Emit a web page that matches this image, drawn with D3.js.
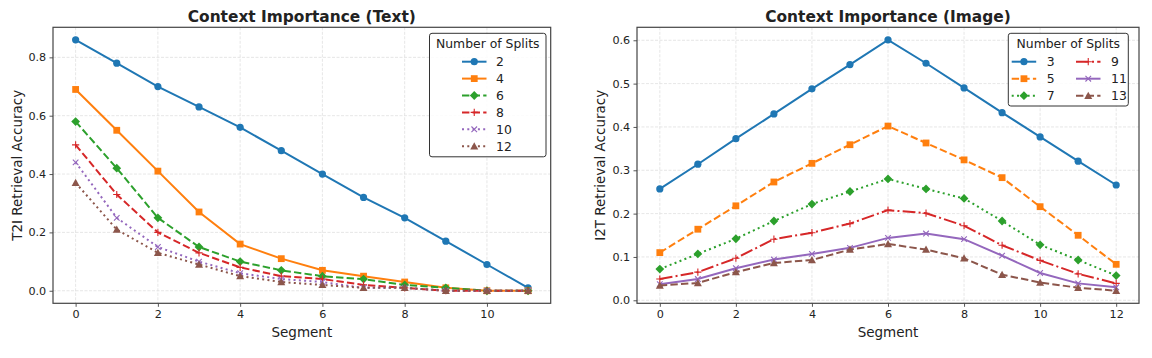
<!DOCTYPE html>
<html>
<head>
<meta charset="utf-8">
<script src="https://cdn.jsdelivr.net/npm/d3@7"></script>
<style>
  body { margin: 0; background: #fff; }
  svg text { font-family: "DejaVu Sans", sans-serif; fill: #222; }
</style>
</head>
<body>
<div id="chart"></div>
<script>
// ---- data ----
const textSegments = d3.range(0, 12);
const textSplits = ['2', '4', '6', '8', '10', '12'];
const textValues = [
  [0.86, 0.78, 0.70, 0.63, 0.56, 0.48, 0.40, 0.32, 0.25, 0.17, 0.09, 0.01],
  [0.69, 0.55, 0.41, 0.27, 0.16, 0.11, 0.07, 0.05, 0.03, 0.01, 0.00, 0.00],
  [0.58, 0.42, 0.25, 0.15, 0.10, 0.07, 0.05, 0.04, 0.02, 0.01, 0.00, 0.00],
  [0.50, 0.33, 0.20, 0.13, 0.08, 0.05, 0.04, 0.02, 0.01, 0.00, 0.00, 0.00],
  [0.44, 0.25, 0.15, 0.10, 0.06, 0.04, 0.03, 0.01, 0.01, 0.00, 0.00, 0.00],
  [0.37, 0.21, 0.13, 0.09, 0.05, 0.03, 0.02, 0.01, 0.01, 0.00, 0.00, 0.00]
];

const imageSegments = d3.range(0, 13);
const imageSplits = ['3', '5', '7', '9', '11', '13'];
const imageValues = [
  [0.257, 0.314, 0.373, 0.430, 0.488, 0.544, 0.601, 0.547, 0.490, 0.433, 0.377, 0.321, 0.266],
  [0.110, 0.164, 0.218, 0.273, 0.316, 0.359, 0.402, 0.363, 0.324, 0.283, 0.216, 0.150, 0.083],
  [0.072, 0.107, 0.142, 0.183, 0.222, 0.251, 0.280, 0.257, 0.235, 0.183, 0.128, 0.093, 0.057],
  [0.049, 0.065, 0.097, 0.141, 0.156, 0.177, 0.208, 0.201, 0.172, 0.127, 0.092, 0.061, 0.039],
  [0.037, 0.049, 0.074, 0.094, 0.107, 0.121, 0.144, 0.154, 0.141, 0.103, 0.063, 0.039, 0.030],
  [0.034, 0.040, 0.065, 0.086, 0.093, 0.117, 0.130, 0.117, 0.097, 0.059, 0.041, 0.029, 0.022]
];

const textXTicks = [0, 2, 4, 6, 8, 10];
const textYTicks = [0, 0.2, 0.4, 0.6, 0.8];
const imageXTicks = [0, 2, 4, 6, 8, 10, 12];
const imageYTicks = [0, 0.1, 0.2, 0.3, 0.4, 0.5, 0.6];

const colors = ['#1f77b4', '#ff7f0e', '#2ca02c', '#d62728', '#9467bd', '#8c564b'];
const textStyles = [
  { dash: null, marker: 'o' },
  { dash: null, marker: 's' },
  { dash: 'dashed', marker: 'D' },
  { dash: 'dashed', marker: '+' },
  { dash: 'dotted', marker: 'x' },
  { dash: 'dotted', marker: '^' }
];
const imageStyles = [
  { dash: null, marker: 'o' },
  { dash: 'dashed', marker: 's' },
  { dash: 'dotted', marker: 'D' },
  { dash: 'dashdot', marker: '+' },
  { dash: null, marker: 'x' },
  { dash: 'dashed', marker: '^' }
];

const dashes = { dashed: '7.4,3.2', dotted: '2,3.3', dashdot: '12.8,3.2,2,3.2' };

const W = 1152, H = 358;
const svg = d3.select('#chart').append('svg').attr('width', W).attr('height', H);

function drawMarker(g, type, x, y, color) {
  if (type === 'o') {
    g.append('circle').attr('cx', x).attr('cy', y).attr('r', 3.6).attr('fill', color);
  } else if (type === 's') {
    g.append('rect').attr('x', x - 3.4).attr('y', y - 3.4).attr('width', 6.8).attr('height', 6.8).attr('fill', color);
  } else if (type === 'D') {
    const r = 4.4;
    g.append('path').attr('d', `M${x},${y - r}L${x + r},${y}L${x},${y + r}L${x - r},${y}Z`).attr('fill', color);
  } else if (type === '^') {
    const r = 4;
    g.append('path').attr('d', `M${x},${y - r}L${x + r},${y + r * 0.8}L${x - r},${y + r * 0.8}Z`).attr('fill', color);
  } else if (type === '+') {
    const r = 3.6;
    g.append('path').attr('d', `M${x - r},${y}H${x + r}M${x},${y - r}V${y + r}`)
      .attr('stroke', color).attr('stroke-width', 1.1).attr('fill', 'none');
  } else if (type === 'x') {
    const r = 2.8;
    g.append('path').attr('d', `M${x - r},${y - r}L${x + r},${y + r}M${x - r},${y + r}L${x + r},${y - r}`)
      .attr('stroke', color).attr('stroke-width', 1.1).attr('fill', 'none');
  }
}

function drawPanel(cfg) {
  const { left, right, top, bottom } = cfg.box;
  const xMin = d3.min(cfg.segments), xMax = d3.max(cfg.segments);
  const allY = cfg.values.flat();
  const yMin = d3.min(allY), yMax = d3.max(allY);
  const xPad = (xMax - xMin) * 0.05, yPad = (yMax - yMin) * 0.05;

  const x = d3.scaleLinear().domain([xMin - xPad, xMax + xPad]).range([left, right]);
  const y = d3.scaleLinear().domain([yMin - yPad, yMax + yPad]).range([bottom, top]);

  const g = svg.append('g');

  // grid
  g.append('g').selectAll('line').data(cfg.xTicks).join('line')
    .attr('x1', d => x(d)).attr('x2', d => x(d)).attr('y1', top).attr('y2', bottom)
    .attr('stroke', '#e0e0e0').attr('stroke-width', 0.8).attr('stroke-dasharray', '3,1.5');
  g.append('g').selectAll('line').data(cfg.yTicks).join('line')
    .attr('y1', d => y(d)).attr('y2', d => y(d)).attr('x1', left).attr('x2', right)
    .attr('stroke', '#e0e0e0').attr('stroke-width', 0.8).attr('stroke-dasharray', '3,1.5');

  // axes
  const xAxis = g.append('g').attr('transform', `translate(0,${bottom})`)
    .call(d3.axisBottom(x).tickValues(cfg.xTicks).tickFormat(d3.format('d')).tickSize(3.5).tickPadding(3));
  const yAxis = g.append('g').attr('transform', `translate(${left},0)`)
    .call(d3.axisLeft(y).tickValues(cfg.yTicks).tickFormat(d3.format(cfg.yFormat)).tickSize(3.5).tickPadding(3.3));
  [xAxis, yAxis].forEach(a => {
    a.select('.domain').remove();
    a.selectAll('line').attr('stroke', '#444').attr('stroke-width', 0.9);
    a.selectAll('text').attr('font-size', 11.2).attr('font-family', 'DejaVu Sans').attr('fill', '#222');
  });

  // series
  const line = d3.line().x(d => x(d[0])).y(d => y(d[1]));
  cfg.values.forEach((vals, i) => {
    const pts = cfg.segments.map((s, j) => [s, vals[j]]);
    const st = cfg.styles[i];
    g.append('path').attr('d', line(pts)).attr('fill', 'none')
      .attr('stroke', colors[i]).attr('stroke-width', 2)
      .attr('stroke-dasharray', st.dash ? dashes[st.dash] : null);
    const mg = g.append('g');
    pts.forEach(p => drawMarker(mg, st.marker, x(p[0]), y(p[1]), colors[i]));
  });

  // frame
  g.append('rect').attr('x', left).attr('y', top).attr('width', right - left).attr('height', bottom - top)
    .attr('fill', 'none').attr('stroke', '#444').attr('stroke-width', 1.2);

  // titles
  g.append('text').attr('x', (left + right) / 2).attr('y', 22).attr('text-anchor', 'middle')
    .attr('font-size', 15.4).attr('font-weight', 'bold').attr('fill', '#000').text(cfg.title);
  g.append('text').attr('x', (left + right) / 2).attr('y', 336.5).attr('text-anchor', 'middle')
    .attr('font-size', 13.5).text('Segment');
  g.append('text').attr('transform', `translate(${cfg.yLabelX},${(top + bottom) / 2}) rotate(-90)`)
    .attr('text-anchor', 'middle').attr('font-size', 13.5).text(cfg.yLabel);

  // legend
  const L = cfg.legend;
  const lg = g.append('g');
  lg.append('rect').attr('x', L.x).attr('y', L.y).attr('width', L.w).attr('height', L.h)
    .attr('rx', 2.5).attr('fill', 'rgba(255,255,255,0.85)').attr('stroke', '#333').attr('stroke-width', 1);
  lg.append('text').attr('x', L.x + L.w / 2).attr('y', L.y + 14.8).attr('text-anchor', 'middle')
    .attr('font-size', 12.4).text('Number of Splits');
  cfg.splits.forEach((lab, i) => {
    const col = Math.floor(i / L.rows), row = i % L.rows;
    const hx = L.hx + col * L.colW, hy = L.y0 + row * L.rowH;
    const st = cfg.styles[i];
    lg.append('line').attr('x1', hx).attr('x2', hx + 24.5).attr('y1', hy).attr('y2', hy)
      .attr('stroke', colors[i]).attr('stroke-width', 2)
      .attr('stroke-dasharray', st.dash ? dashes[st.dash] : null);
    drawMarker(lg, st.marker, hx + 12.25, hy, colors[i]);
    lg.append('text').attr('x', hx + L.labelDx).attr('y', hy + 4.4).attr('font-size', 12.4).text(lab);
  });
}

drawPanel({
  title: 'Context Importance (Text)',
  yLabel: 'T2I Retrieval Accuracy',
  yLabelX: 21.5,
  box: { left: 53, right: 550.7, top: 27.3, bottom: 303.3 },
  segments: textSegments, values: textValues, splits: textSplits, styles: textStyles,
  xTicks: textXTicks, yTicks: textYTicks, yFormat: '.1f',
  legend: { x: 429.5, y: 33.3, w: 116.5, h: 123.5, rows: 6, hx: 462, y0: 61.7, rowH: 16.9, colW: 0, labelDx: 34 }
});

drawPanel({
  title: 'Context Importance (Image)',
  yLabel: 'I2T Retrieval Accuracy',
  yLabelX: 605,
  box: { left: 637, right: 1139, top: 27.3, bottom: 303.3 },
  segments: imageSegments, values: imageValues, splits: imageSplits, styles: imageStyles,
  xTicks: imageXTicks, yTicks: imageYTicks, yFormat: '.1f',
  legend: { x: 1008.3, y: 33.3, w: 120, h: 72.7, rows: 3, hx: 1011.7, y0: 61.7, rowH: 17, colW: 64.3, labelDx: 35 }
});
</script>
</body>
</html>
